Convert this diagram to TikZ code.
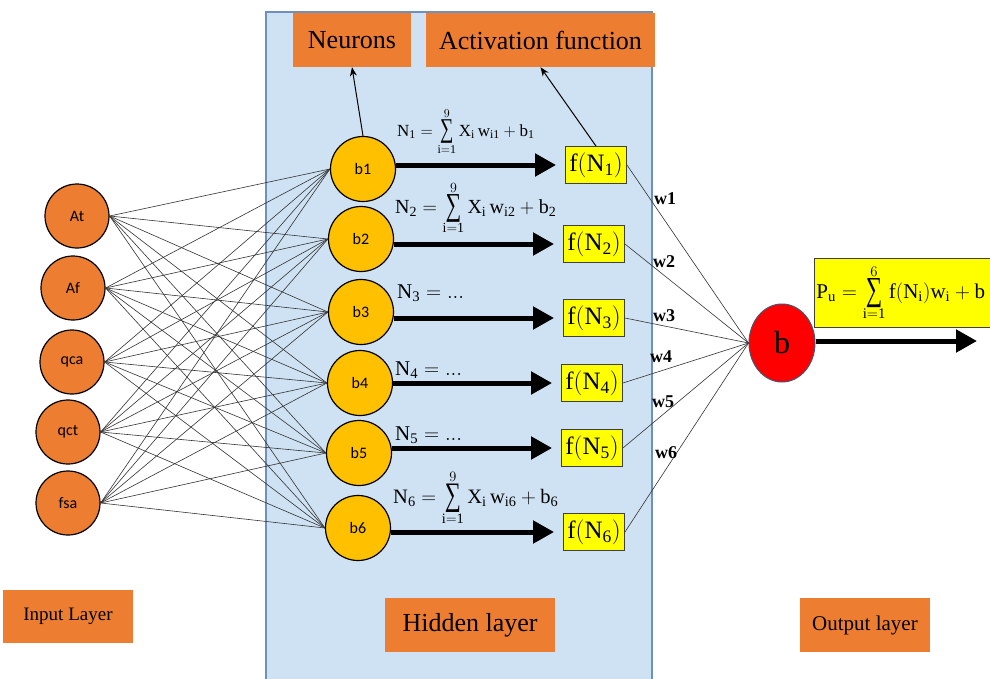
\RequirePackage{fix-cm}
\documentclass[tikz,border=0pt]{standalone}
\usepackage{graphicx}
\usepackage{fontspec}
\setmainfont{Liberation Serif}
\newfontfamily\calfont{Carlito}
\usetikzlibrary{arrows.meta,shapes.geometric}
\definecolor{orng}{HTML}{ED7D31}
\definecolor{gold}{HTML}{FFC000}
\definecolor{panelfill}{HTML}{CFE2F3}
\definecolor{paneledge}{HTML}{6F90BE}
\definecolor{yel}{HTML}{FFFF00}
\newcommand{\fsz}[1]{\fontsize{#1}{#1}\selectfont}
\newcommand{\BigSum}{\mathop{\vcenter{\hbox{\scalebox{1.1}[1.6]{∑}}}}\limits}
\tikzset{
  inneuron/.style={circle, draw=black, line width=1.2pt, fill=orng, minimum size=64pt, inner sep=0pt, font=\calfont\fsz{16}},
  hidneuron/.style={circle, draw=black, line width=1.2pt, fill=gold, minimum size=65pt, inner sep=0pt, font=\calfont\fsz{16}},
  fbox/.style={rectangle, draw=black!75, line width=0.9pt, fill=yel, minimum width=61pt, minimum height=37pt, inner sep=0pt, font=\fsz{25}},
  labbox/.style={rectangle, fill=orng, inner sep=0pt},
  conn/.style={draw=black!80, line width=0.6pt},
  bigarrow/.style={line width=5pt, -{Triangle[length=21pt,width=22pt]}},
  thinarrow/.style={line width=1pt, -{Stealth[length=9pt,width=7pt]}},
  wlab/.style={font=\bfseries\fsz{18}},
  eqlab/.style={anchor=base west, inner sep=0pt}
}
\begin{document}
\begin{tikzpicture}[x=1pt,y=-1pt]
\clip (0,0) rectangle (990,678);
\fill[white] (0,0) rectangle (990,678);
% hidden layer panel
\fill[panelfill] (266,12) rectangle (652,690);
\draw[paneledge, line width=1.2pt] (266,690) -- (266,12) -- (652,12) -- (652,690);

% top label boxes
\node[labbox, minimum width=118pt, minimum height=54pt, font=\fsz{26}] (neur) at (352,40) {Neurons};
\node[labbox, minimum width=229pt, minimum height=54pt, font=\fsz{26}] (act) at (540.5,40) {Activation function};

% bottom label boxes
\node[labbox, minimum width=130pt, minimum height=53pt, font=\fsz{19}] (inl) at (68,616.5) {Input Layer};
\node[labbox, minimum width=170pt, minimum height=54pt, font=\fsz{26}] (hidl) at (470,625) {Hidden layer};
\node[labbox, minimum width=130pt, minimum height=54pt, font=\fsz{21}] (outl) at (865,625) {Output layer};

% input neurons
\node[inneuron] (At) at (77,216) {At};
\node[inneuron] (Af) at (73,288) {Af};
\node[inneuron] (qca) at (72,362) {qca};
\node[inneuron] (qct) at (68,432) {qct};
\node[inneuron] (fsa) at (68,503) {fsa};

% hidden neurons
\node[hidneuron] (b1) at (363,169) {b1};
\node[hidneuron] (b2) at (361,239) {b2};
\node[hidneuron] (b3) at (361,312) {b3};
\node[hidneuron] (b4) at (360,383) {b4};
\node[hidneuron] (b5) at (359,453) {b5};
\node[hidneuron] (b6) at (358,528) {b6};

% connections input -> hidden
\foreach \i in {At,Af,qca,qct,fsa}{
  \foreach \h in {b1,b2,b3,b4,b5,b6}{
    \draw[conn] (\i.east) -- (\h.west);
  }
}

% activation boxes
\node[fbox] (f1) at (596,165) {$\mathrm{f(N_1)}$};
\node[fbox] (f2) at (594,244) {$\mathrm{f(N_2)}$};
\node[fbox] (f3) at (594,318) {$\mathrm{f(N_3)}$};
\node[fbox] (f4) at (592,383) {$\mathrm{f(N_4)}$};
\node[fbox] (f5) at (592,448) {$\mathrm{f(N_5)}$};
\node[fbox] (f6) at (594,532) {$\mathrm{f(N_6)}$};

% thick arrows
\foreach \k in {1,...,6}{
  \draw[bigarrow] (b\k.east |- f\k.west) -- ([xshift=-9pt]f\k.west);
}

% equations
\node[eqlab, font=\fsz{17}] (eq1) at (397,136) {$\mathrm{N_1}=\BigSum_{\mathrm{i=1}}^{9}\mathrm{X_i\,w_{i1}}+\mathrm{b_1}$};
\node[eqlab, font=\fsz{20}] (eq2) at (395,213) {$\mathrm{N_2}=\BigSum_{\mathrm{i=1}}^{9}\mathrm{X_i\,w_{i2}}+\mathrm{b_2}$};
\node[eqlab, font=\fsz{21}] (eq3) at (397,298) {$\mathrm{N_3}=\mathrm{...}$};
\node[eqlab, font=\fsz{21}] (eq4) at (395,375) {$\mathrm{N_4}=\mathrm{...}$};
\node[eqlab, font=\fsz{21}] (eq5) at (395,440) {$\mathrm{N_5}=\mathrm{...}$};
\node[eqlab, font=\fsz{20.5}] (eq6) at (393,503) {$\mathrm{N_6}=\BigSum_{\mathrm{i=1}}^{9}\mathrm{X_i\,w_{i6}}+\mathrm{b_6}$};

% thin arrows to labels
\draw[thinarrow] (b1.north) -- (neur.south);
\draw[thinarrow] (f1.north) -- (act.south);

% output neuron
\node[ellipse, draw=paneledge!60!black, line width=1pt, fill=red, minimum width=66pt, minimum height=78pt, inner sep=0pt, font=\fsz{32}] (bout) at (782,343) {b};

\foreach \k in {1,...,6}{
  \draw[conn] (f\k.east) -- (bout.west);
}

% weight labels
\node[wlab] (w1) at (665,199) {w1};
\node[wlab] (w2) at (664,262) {w2};
\node[wlab] (w3) at (664,316) {w3};
\node[wlab] (w4) at (661,357) {w4};
\node[wlab] (w5) at (663,402) {w5};
\node[wlab] (w6) at (666,453) {w6};

% output formula box
\node[rectangle, draw=black!75, line width=0.9pt, fill=yel, anchor=north west, minimum width=190pt, minimum height=69pt, text width=186pt, inner xsep=2pt, inner ysep=0pt, align=left, font=\fsz{21}] (pu) at (814,258) {$\mathrm{P_u}=\BigSum_{\mathrm{i=1}}^{6}\mathrm{f(N_i)w_i}+\mathrm{b}$};
\coordinate (outend) at (977,341);
\draw[bigarrow] (bout.east |- outend) -- (outend);
\end{tikzpicture}
\end{document}
